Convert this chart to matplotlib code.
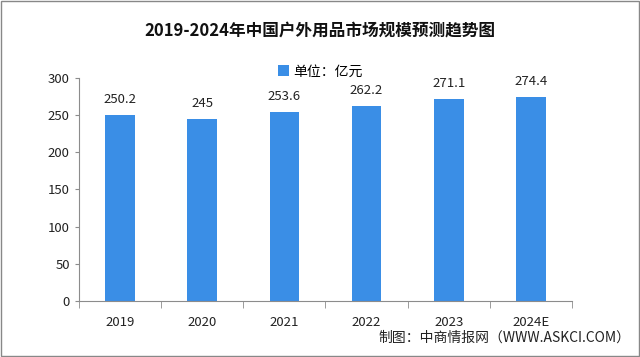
import matplotlib
matplotlib.use("Agg")
import matplotlib.pyplot as plt
import numpy as np

plt.rcParams['font.family'] = ['Noto Sans CJK SC', 'DejaVu Sans']

years = ['2019', '2020', '2021', '2022', '2023', '2024E']
values = [250.2, 245, 253.6, 262.2, 271.1, 274.4]
value_labels = ['250.2', '245', '253.6', '262.2', '271.1', '274.4']

bar_color = '#3a8ee6'
axis_color = '#8c8c8c'

fig = plt.figure(figsize=(6.4, 3.57), dpi=100)
ax = fig.add_axes([0.123, 0.157, 0.771, 0.625])

x = np.arange(len(years))
bars = ax.bar(x, values, width=0.36, color=bar_color, label='单位：亿元')

for xi, v, lab in zip(x, values, value_labels):
    ax.text(xi, v + 12, lab, ha='center', va='bottom', fontsize=9.5, color='#222222')

ax.set_xlim(-0.5, len(years) - 0.5)
ax.set_ylim(0, 300)
ax.set_yticks(range(0, 301, 50))
ax.tick_params(axis='y', labelsize=9.5, colors='#222222', length=3, color=axis_color)

ax.set_xticks(x)
ax.set_xticklabels(years, fontsize=9.5, color='#222222')
ax.tick_params(axis='x', length=0, pad=11)
ax.set_xticks(np.arange(-0.5, len(years)), minor=True)
ax.tick_params(axis='x', which='minor', length=5, color=axis_color)

for s in ['top', 'right']:
    ax.spines[s].set_visible(False)
for s in ['left', 'bottom']:
    ax.spines[s].set_color(axis_color)

fig.text(0.5, 0.915, '2019-2024年中国户外用品市场规模预测趋势图', ha='center', va='center',
         fontsize=12, fontweight='bold', color='#111111')
fig.legend(handles=[bars], loc='center', bbox_to_anchor=(0.5, 0.8), frameon=False,
           fontsize=10, handlelength=0.8, handleheight=0.8, handletextpad=0.3)
fig.text(0.985, 0.055, '制图：中商情报网（WWW.ASKCI.COM）', ha='right', va='center',
         fontsize=10, color='#222222')

border = plt.Rectangle((0.002, 0.003), 0.996, 0.994, transform=fig.transFigure,
                       fill=False, edgecolor='#888888', linewidth=1)
fig.patches.append(border)

fig.savefig('out.png', dpi=100)
